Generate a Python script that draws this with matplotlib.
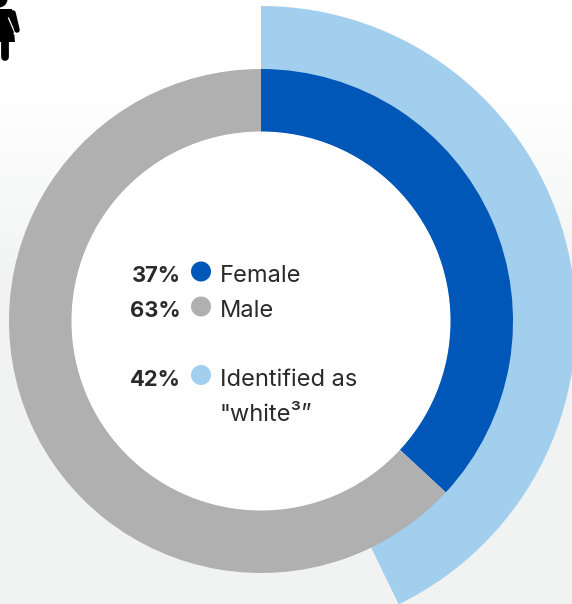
import matplotlib
matplotlib.use("Agg")
import matplotlib.pyplot as plt
import numpy as np
from matplotlib.patches import Circle, Ellipse, Polygon

gender_labels = ["Female", "Male"]
gender_values = [36.9, 63.1]
gender_text = ["37%", "63%"]
white_label = ["Identified as", '"white³”']
white_value = [42.8, 57.2]
white_text = "42%"
c_f, c_m, c_w = "#0057b8", "#b0b0b0", "#a3cfef"
ink = "#2a2a2a"

plt.rcParams["font.family"] = ["Inter", "DejaVu Sans"]
W, H = 572, 604
fig = plt.figure(figsize=(W/100, H/100), dpi=100)
ax = fig.add_axes([0, 0, 1, 1])

# background gradient
grad = np.interp(np.arange(H), [0, 90, 290, H], [1, 1, 0, 0])[:, None]
bg = np.array([241, 243, 243])/255
img = (bg + (1-bg)*grad[..., None])
ax.imshow(img, extent=(0, W, H, 0), aspect="auto", zorder=0)

cx, cy = 261, 321
# y axis is inverted, so counter-clockwise in data reads clockwise on screen
ax.pie(white_value, colors=[c_w, "none"], radius=315, center=(cx, cy), startangle=270,
       counterclock=True, wedgeprops=dict(width=64, linewidth=0), frame=True)
ax.pie(gender_values, colors=[c_f, c_m], radius=252, center=(cx, cy), startangle=270,
       counterclock=True, wedgeprops=dict(width=63, linewidth=0), frame=True)
ax.add_patch(Circle((cx, cy), 189.5, fc="white", ec="none", zorder=1))
ax.set_xlim(0, W); ax.set_ylim(H, 0); ax.set_aspect("auto"); ax.axis("off")

# icon
ax.add_patch(Ellipse((-1, -1), 17, 17, fc="black", ec="none", zorder=3))
ax.add_patch(Polygon([(-3, 9), (12, 9), (15, 42), (-3, 42)], fc="black", ec="none", zorder=3))
ax.plot([8.5, 15], [18, 33], color="white", lw=0.9, zorder=3)
ax.plot([16, 20], [33, 35], color="white", lw=3, zorder=3)
ax.plot([13, 17], [13, 30], color="black", lw=4, solid_capstyle="round", zorder=3)
ax.plot([5, 5], [42, 57], color="black", lw=5.6, solid_capstyle="round", zorder=3)

fs_num, fs_lab = 15.8, 17
rows = [(gender_text[0], gender_labels[0], c_f, 271.5, 282),
        (gender_text[1], gender_labels[1], c_m, 306.5, 317),
        (white_text, white_label[0], c_w, 375, 386)]
for pct, lab, col, y, base in rows:
    ax.text(180.5, base, pct, ha="right", va="baseline", fontsize=fs_num, fontweight="bold", color=ink, zorder=4)
    ax.add_patch(Circle((201, y), 10, fc=col, ec="none", zorder=4))
    ax.text(220, base, lab, ha="left", va="baseline", fontsize=fs_lab, color=ink, zorder=4)
ax.text(220, 421, white_label[1], ha="left", va="baseline", fontsize=fs_lab, color=ink, zorder=4)

fig.savefig("out.png", dpi=100)
